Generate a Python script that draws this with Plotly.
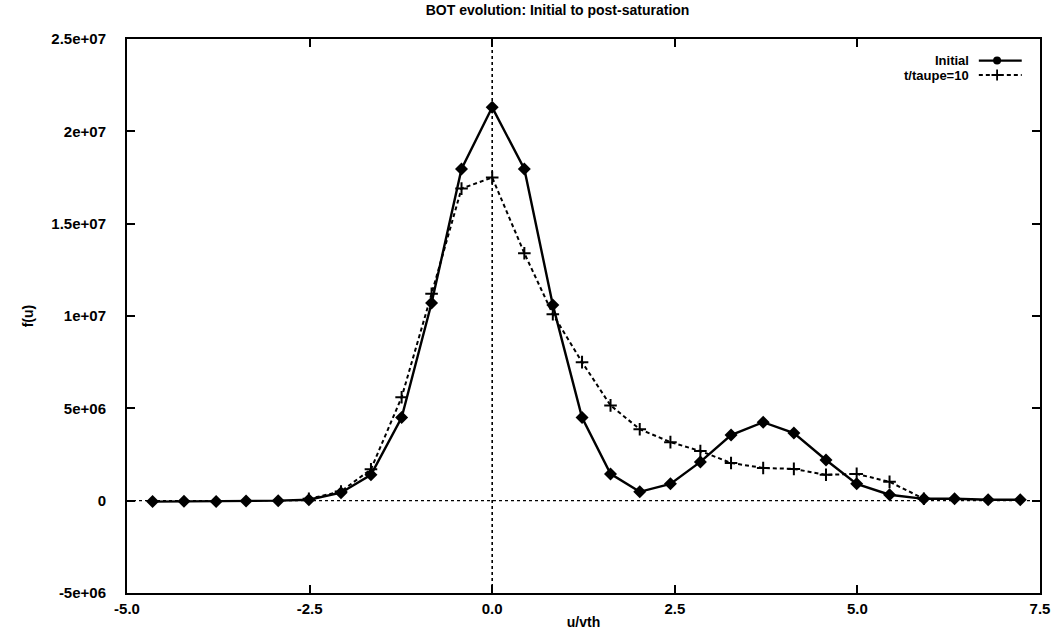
import plotly.graph_objects as go

# ---- data ----
u_initial = [-4.65, -4.22, -3.78, -3.37, -2.93, -2.51, -2.07, -1.66, -1.24, -0.83, -0.42, 0.0,
             0.44, 0.83, 1.23, 1.62, 2.02, 2.44, 2.85, 3.27, 3.71, 4.13, 4.57, 4.99, 5.44,
             5.91, 6.33, 6.79, 7.23]
f_initial = [-0.05e6, -0.03e6, -0.05e6, -0.02e6, 0.0, 0.05e6, 0.43e6, 1.4e6, 4.5e6, 10.7e6,
             17.96e6, 21.3e6, 17.96e6, 10.6e6, 4.5e6, 1.45e6, 0.48e6, 0.91e6, 2.1e6, 3.55e6,
             4.25e6, 3.66e6, 2.2e6, 0.91e6, 0.32e6, 0.1e6, 0.1e6, 0.05e6, 0.05e6]

u_t10 = [-2.51, -2.07, -1.66, -1.24, -0.83, -0.42, 0.0, 0.44, 0.83, 1.23, 1.62, 2.02, 2.44,
         2.85, 3.27, 3.71, 4.13, 4.57, 4.99, 5.44, 5.91]
f_t10 = [0.1e6, 0.5e6, 1.7e6, 5.6e6, 11.2e6, 16.9e6, 17.5e6, 13.4e6, 10.1e6, 7.5e6, 5.16e6,
         3.87e6, 3.17e6, 2.69e6, 2.04e6, 1.77e6, 1.72e6, 1.40e6, 1.45e6, 1.02e6, 0.1e6]

x_ticks = [-5.0, -2.5, 0.0, 2.5, 5.0, 7.5]
x_tick_labels = ["-5.0", "-2.5", "0.0", "2.5", "5.0", "7.5"]
y_ticks = [-5e6, 0, 5e6, 1e7, 1.5e7, 2e7, 2.5e7]
y_tick_labels = ["-5e+06", "0", "5e+06", "1e+07", "1.5e+07", "2e+07", "2.5e+07"]

series_names = ["Initial", "t/taupe=10"]

FONT = "Liberation Sans"

fig = go.Figure()

fig.add_trace(go.Scatter(
    x=u_initial, y=f_initial, mode="lines+markers", name=series_names[0],
    line=dict(color="black", width=2.4),
    marker=dict(symbol="diamond", size=10, color="black"),
    showlegend=False,
))
fig.add_trace(go.Scatter(
    x=u_t10, y=f_t10, mode="lines+markers", name=series_names[1],
    line=dict(color="black", width=2, dash="4px,3px"),
    marker=dict(symbol="cross-thin", size=9, line=dict(color="black", width=2)),
    showlegend=False,
))

# zero axes (dotted)
fig.add_shape(type="line", xref="x", yref="paper", x0=0, x1=0, y0=0, y1=1,
              line=dict(color="black", width=1.6, dash="dot"), layer="below")
fig.add_shape(type="line", xref="paper", yref="y", x0=0, x1=1, y0=0, y1=0,
              line=dict(color="black", width=1.2, dash="dot"), layer="below")

# gnuplot-style legend (text right, sample to its right)
leg_y = [0.961, 0.935]
fig.add_trace(go.Scatter(x=[0.933, 0.980], y=[leg_y[0]] * 2, xaxis="x2", yaxis="y2",
                         mode="lines", line=dict(color="black", width=2.4),
                         showlegend=False, hoverinfo="skip"))
fig.add_trace(go.Scatter(x=[0.953], y=[leg_y[0]], xaxis="x2", yaxis="y2",
                         mode="markers", marker=dict(symbol="circle", size=8, color="black"),
                         showlegend=False, hoverinfo="skip"))
fig.add_trace(go.Scatter(x=[0.933, 0.980], y=[leg_y[1]] * 2, xaxis="x2", yaxis="y2",
                         mode="lines", line=dict(color="black", width=1.8, dash="4px,3px"),
                         showlegend=False, hoverinfo="skip"))
fig.add_trace(go.Scatter(x=[0.953], y=[leg_y[1]], xaxis="x2", yaxis="y2",
                         mode="markers",
                         marker=dict(symbol="cross-thin", size=8, line=dict(color="black", width=1.8)),
                         showlegend=False, hoverinfo="skip"))
for name, yy in zip(series_names, leg_y):
    fig.add_annotation(x=0.924, y=yy, xref="paper", yref="paper", text=name,
                       showarrow=False, xanchor="right", yanchor="middle",
                       font=dict(family=FONT, size=13, color="black", weight="bold"))

axis_common = dict(
    showgrid=False, zeroline=False, showline=True, linecolor="black", linewidth=2,
    mirror="ticks", ticks="inside", ticklen=8, tickwidth=1.5, tickcolor="black",
    tickfont=dict(family=FONT, size=15, color="black", weight="bold"),
)

fig.update_layout(
    width=1062, height=640,
    margin=dict(l=127, r=19, t=39, b=40),
    paper_bgcolor="white", plot_bgcolor="white",
    title=dict(text="BOT evolution: Initial to post-saturation", x=0.525, xanchor="center",
               y=0.992, yanchor="top",
               font=dict(family=FONT, size=14, color="black", weight="bold")),
    xaxis=dict(range=[-5, 7.5], tickvals=x_ticks, ticktext=x_tick_labels,
               ticklabelstandoff=1,
               title=dict(text="u/vth", standoff=1,
                          font=dict(family=FONT, size=14, color="black", weight="bold")),
               **axis_common),
    yaxis=dict(range=[-5e6, 2.5e7], tickvals=y_ticks, ticktext=y_tick_labels,
               ticklabelstandoff=16,
               title=dict(text="f(u)", standoff=14,
                          font=dict(family=FONT, size=14, color="black", weight="bold")),
               **axis_common),
    xaxis2=dict(overlaying="x", range=[0, 1], visible=False),
    yaxis2=dict(overlaying="y", range=[0, 1], visible=False),
)

fig.write_html("out.html")
